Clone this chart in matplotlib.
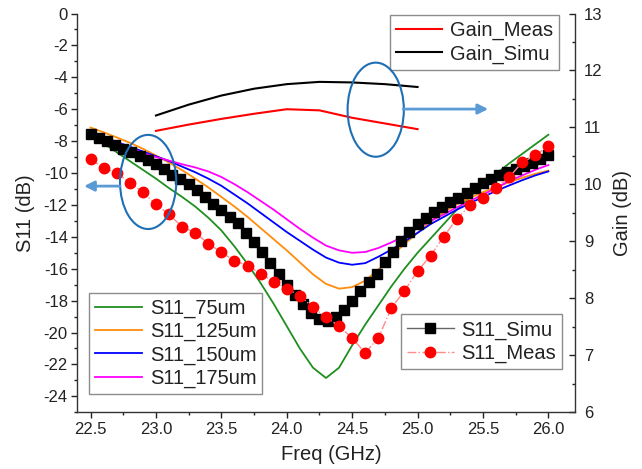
import numpy as np
import matplotlib
matplotlib.use("Agg")
import matplotlib.pyplot as plt
from matplotlib.patches import Ellipse
from matplotlib.ticker import MultipleLocator, FormatStrFormatter

plt.rcParams['font.family'] = ['Liberation Sans', 'DejaVu Sans']
plt.rcParams['axes.unicode_minus'] = False

# ---- data ----
# simulated S11 (black squares), 22.5..26.0 GHz, 57 points
f_simu = np.linspace(22.5, 26.0, 57)
s11_simu = [-7.55, -7.78, -8.02, -8.25, -8.47, -8.69, -8.92, -9.17, -9.45, -9.77,
            -10.10, -10.40, -10.70, -11.08, -11.50, -11.92, -12.33, -12.75, -13.15, -13.75,
            -14.30, -14.95, -15.65, -16.35, -17.00, -17.65, -18.20, -18.75, -19.15, -19.30,
            -19.05, -18.60, -18.05, -17.40, -16.85, -16.30, -15.60, -14.95, -14.25, -13.70,
            -13.20, -12.85, -12.45, -12.15, -11.80, -11.55, -11.25, -10.95, -10.65, -10.40,
            -10.15, -9.95, -9.75, -9.55, -9.35, -9.15, -8.90]

# measured S11 (red circles), 0.1 GHz step
f_meas = np.round(np.arange(22.5, 26.01, 0.1), 2)
s11_meas = [-9.14, -9.66, -10.02, -10.60, -11.20, -11.97, -12.60, -13.37, -13.75, -14.42,
            -14.97, -15.50, -15.80, -16.30, -16.83, -17.26, -17.68, -18.42, -19.04, -19.60,
            -20.35, -21.28, -20.33, -18.47, -17.38, -16.15, -15.18, -13.98, -12.88, -12.03,
            -11.55, -10.94, -10.27, -9.32, -8.90, -8.30]

# S11 for different widths, 0.1 GHz step
f_sweep = f_meas
s11_75um = [-7.60, -8.15, -8.70, -9.25, -9.80, -10.35, -10.95, -11.50, -12.10, -12.80,
            -13.60, -14.60, -15.70, -16.90, -18.20, -19.60, -21.00, -22.20, -22.85, -22.20,
            -20.80, -19.50, -18.30, -17.10, -16.00, -15.00, -14.10, -13.20, -12.30, -11.50,
            -10.75, -10.05, -9.40, -8.80, -8.20, -7.60]
s11_125um = [-7.15, -7.45, -7.77, -8.10, -8.48, -8.90, -9.35, -9.82, -10.35, -10.90,
             -11.50, -12.10, -12.75, -13.45, -14.15, -14.85, -15.60, -16.35, -16.95, -17.25,
             -17.15, -16.75, -16.05, -15.20, -14.45, -13.75, -13.05, -12.45, -11.95, -11.55,
             -11.20, -10.88, -10.58, -10.30, -10.05, -9.85]
s11_150um = [-7.45, -7.75, -8.05, -8.35, -8.65, -8.95, -9.25, -9.60, -9.95, -10.35,
             -10.80, -11.35, -11.90, -12.50, -13.10, -13.70, -14.25, -14.80, -15.30, -15.62,
             -15.75, -15.65, -15.25, -14.80, -14.30, -13.75, -13.20, -12.75, -12.30, -11.90,
             -11.50, -11.12, -10.78, -10.45, -10.15, -9.90]
s11_175um = [-7.50, -7.80, -8.10, -8.40, -8.75, -9.00, -9.22, -9.45, -9.65, -9.90,
             -10.25, -10.70, -11.20, -11.75, -12.30, -12.90, -13.50, -14.05, -14.55, -14.85,
             -15.00, -14.95, -14.70, -14.35, -13.95, -13.45, -13.00, -12.60, -12.15, -11.75,
             -11.35, -10.95, -10.50, -10.15, -9.80, -9.50]

# gain (right axis)
f_gain = [23.0, 23.25, 23.5, 23.75, 24.0, 24.25, 24.5, 24.75, 25.0]
gain_meas = [10.94, 11.05, 11.15, 11.24, 11.32, 11.30, 11.17, 11.07, 10.97]
gain_simu = [11.21, 11.40, 11.56, 11.68, 11.76, 11.80, 11.79, 11.76, 11.71]

# annotation placement (left-axis data units)
ell_left = (22.94, -10.56)
ell_right = (24.68, -6.03)
ell_w, ell_h = 0.43, 5.9
arrow_left = ((22.725, -10.82), (22.45, -10.82))
arrow_right = ((24.89, -5.99), (25.54, -5.99))

txt = '#222222'

fig = plt.figure(figsize=(6.42, 4.69), dpi=100)
ax = fig.add_axes([0.1207, 0.1209, 0.7742, 0.8503])
ax2 = ax.twinx()
ax.set_zorder(2)
ax.patch.set_visible(False)

ax.plot(f_sweep, s11_75um, color='#1f8f1f', lw=1.3, label='S11_75um')
ax.plot(f_sweep, s11_125um, color='#ff8c0a', lw=1.3, label='S11_125um')
ax.plot(f_sweep, s11_150um, color='#0000ff', lw=1.3, label='S11_150um')
ax.plot(f_sweep, s11_175um, color='#ff00ff', lw=1.3, label='S11_175um')
l_simu, = ax.plot(f_simu, s11_simu, color='#666666', lw=1.0, marker='s', ms=6.8,
                  mfc='black', mec='black', label='S11_Simu')
l_meas, = ax.plot(f_meas, s11_meas, color='#ff8c8c', lw=1.0, ls='-.', marker='o', ms=7.5,
                  mfc='#ff0000', mec='#ff0000', label='S11_Meas')

ax2.plot(f_gain, gain_meas, color='#ff0000', lw=1.5, label='Gain_Meas')
ax2.plot(f_gain, gain_simu, color='black', lw=1.5, label='Gain_Simu')

ax.set_xlim(22.4, 26.2)
ax.set_ylim(-25, 0)
ax2.set_ylim(6, 13)

ax.xaxis.set_major_locator(MultipleLocator(0.5))
ax.xaxis.set_minor_locator(MultipleLocator(0.25))
ax.xaxis.set_major_formatter(FormatStrFormatter('%.1f'))
ax.yaxis.set_major_locator(MultipleLocator(2))
ax.yaxis.set_minor_locator(MultipleLocator(1))
ax2.yaxis.set_major_locator(MultipleLocator(1))
ax2.yaxis.set_minor_locator(MultipleLocator(0.5))

for a in (ax, ax2):
    a.spines['top'].set_visible(False)
    for s in a.spines.values():
        s.set_color('#333333')
        s.set_linewidth(1.0)
ax.spines['right'].set_visible(False)
ax2.spines['left'].set_visible(False)
ax2.spines['bottom'].set_visible(False)

ax.tick_params(axis='both', which='major', direction='out', length=4, width=1,
               labelsize=12, colors=txt, pad=3)
ax.tick_params(axis='both', which='minor', direction='out', length=2, width=1, colors=txt)
ax2.tick_params(axis='y', which='major', direction='in', length=4, width=1,
                labelsize=12, colors=txt, pad=7)
ax2.tick_params(axis='y', which='minor', direction='in', length=2, width=1, colors=txt)

ax.set_xlabel('Freq (GHz)', fontsize=14.5, color=txt)
ax.set_ylabel('S11 (dB)', fontsize=14.5, color=txt)
ax2.set_ylabel('Gain (dB)', fontsize=14.5, color=txt)
ax.xaxis.set_label_coords(0.51, -0.083)
ax.yaxis.set_label_coords(-0.085, 0.5)
ax2.yaxis.set_label_coords(1.078, 0.5)

leg_kw = dict(fontsize=14.5, frameon=True, fancybox=False, borderpad=0.3,
              handletextpad=0.4, labelspacing=0.2, handlelength=2.3,
              borderaxespad=0, framealpha=1)

leg1 = ax2.legend(loc='upper right', bbox_to_anchor=(0.9694, 0.9962), **leg_kw)
h = ax.get_lines()
leg2 = ax.legend(h[:4], [l.get_label() for l in h[:4]], loc='lower left',
                 bbox_to_anchor=(0.0237, 0.0459), **leg_kw)
ax.add_artist(leg2)
leg3 = ax.legend([l_simu, l_meas], ['S11_Simu', 'S11_Meas'], loc='lower right',
                 bbox_to_anchor=(0.9755, 0.1086), **leg_kw)
for lg in (leg1, leg2, leg3):
    lg.get_frame().set_edgecolor('#8c8c8c')
    lg.get_frame().set_linewidth(1.0)
    for t in lg.get_texts():
        t.set_color(txt)

for c in (ell_left, ell_right):
    ax.add_patch(Ellipse(c, ell_w, ell_h, fill=False, ec='#1f6fb5', lw=1.5, zorder=5))
for tail, head in (arrow_left, arrow_right):
    ax.annotate('', xy=head, xytext=tail,
                arrowprops=dict(arrowstyle='-|>,head_length=0.6,head_width=0.3',
                                color='#5b9bd5', lw=2, shrinkA=0, shrinkB=0), zorder=5)

fig.savefig('out.png', dpi=100)
